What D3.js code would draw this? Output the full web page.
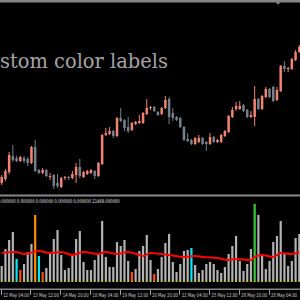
<!DOCTYPE html>
<html>
<head>
<meta charset="utf-8">
<script src="https://cdn.jsdelivr.net/npm/d3@7"></script>
<style>
  body { margin: 0; background: #000; }
  svg { display: block; }
</style>
</head>
<body>
<svg id="chart" width="300" height="300"></svg>
<script>
// H4 candles, [open, high, low, close]
const candles = [
  [1917,1925,1915,1923],[1921,1931,1919,1929],[1928,1948,1926,1945],[1944,1955,1938,1940],
  [1942,1944,1938,1939],[1939,1944,1938,1943],[1942,1944,1937,1939],[1941,1943,1934,1937],
  [1937,1954,1936,1953],[1953,1960,1928,1929],[1930,1931,1926,1927],[1927,1932,1926,1930],
  [1930,1931,1923,1924],[1923,1927,1920,1924],[1925,1926,1911,1914],[1917,1926,1912,1914],
  [1913,1923,1912,1922],[1922,1924,1920,1923],[1923,1924,1920,1922],[1922,1929,1921,1926],
  [1925,1937,1917,1933],[1933,1941,1922,1924],[1923,1929,1922,1928],[1926,1930,1925,1929],
  [1927,1931,1926,1930],[1929,1930,1921,1924],[1924,1938,1923,1937],[1936,1966,1935,1965],
  [1965,1972,1964,1967],[1966,1973,1965,1969],[1969,1970,1962,1964],[1964,1983,1963,1982],
  [1982,1992,1978,1979],[1980,1981,1969,1972],[1973,1983,1967,1969],[1970,1978,1969,1977],
  [1976,1979,1975,1978],[1977,1985,1976,1979],[1977,1988,1976,1987],[1986,2001,1985,1992],
  [1992,1994,1990,1993],[1993,1994,1988,1989],[1988,1989,1984,1985],[1986,1993,1985,1992],
  [1992,2004,1991,2000],[2001,2003,1976,1983],[1987,1992,1979,1982],[1983,1984,1979,1980],
  [1982,1983,1972,1973],[1973,1974,1959,1960],[1961,1967,1958,1959],[1960,1961,1955,1956],
  [1956,1963,1955,1962],[1958,1965,1957,1962],[1962,1963,1955,1956],[1958,1959,1949,1956],
  [1956,1967,1955,1963],[1963,1964,1957,1958],[1958,1961,1957,1960],[1958,1966,1957,1965],
  [1964,1970,1963,1969],[1968,1985,1967,1984],[1983,1993,1982,1990],[1991,1998,1989,1994],
  [1991,1999,1990,1994],[1995,1996,1988,1989],[1990,1991,1982,1983],[1983,1989,1982,1985],
  [1983,2014,1974,2001],[2001,2002,1990,1991],[1991,2005,1990,2004],[2003,2013,2002,2011],
  [2011,2012,2002,2003],[2013,2014,1998,1999],[2000,2013,1999,2010],[2009,2035,2008,2034],
  [2034,2039,2028,2031],[2031,2033,2028,2032],[2031,2042,2030,2041],[2040,2050,2039,2048],
  [2048,2055,2047,2053]
]

const volumes = [
  15,32,41,49,22,11,17,29,37,66, 25,9,13,29,42,51,26,11,13,26,
  42,50,19,11,11,21,27,60,24,14, 14,39,35,41,20,9,12,30,35,46,
  21,7,12,24,38,47,19,9,17,30, 31,33,16,8,11,17,19,17,11,8,
  14,27,35,45,20,10,17,32,77,66, 25,12,20,39,45,60,27,15,20,43,
  47
]

// bars painted by the custom labels
const volSignals = { 4: "cyan", 5: "red", 9: "orange", 10: "cyan", 11: "red", 35: "red", 41: "red", 51: "cyan", 68: "green" }

// red average line, [bar, value]
const maPoints = [
  [0,28],[4,29],[6,27],[10,30],[13,28],[16,29],[19,26],[22,29],[26,27],[28,29],
  [31,27],[34,29],[37,26],[38,25],[40,28],[43,27],[45,26],[49,24],[52,25],[54,24],
  [58,23],[61,21],[63,22],[67,21],[68,24],[70,26],[73,24],[75,28],[78,27],[80,29]
]

const tickBars = [0, 8, 16, 24, 32, 40, 48, 56, 64, 72]
const tickLabels = ["12 May 04:00", "13 May 12:00", "14 May 20:00", "18 May 04:00", "19 May 12:00",
  "20 May 20:00", "22 May 04:00", "25 May 12:00", "26 May 20:00", "28 May 04:00"]

const bufferText = "0.000000 0.000000 0.000000 0.000000 0.000000 21469.000000"
const title = "Custom color labels"

let svg = d3.select("#chart")

svg.append("rect").attr("width", 300).attr("height", 300).style("fill", "#000")

let x = d3.scaleLinear().domain([0, 80]).range([1.7, 299.3])
let y = d3.scaleLinear().domain([1900, 2100]).range([200, 0])
let vy = d3.scaleLinear().domain([0, 80]).range([281, 201])

let bull = "#f08474"
let bear = "#76808a"
let signalColors = { cyan: "#00e8f8", red: "#ff4a10", orange: "#ff8c00", green: "#3cc83c" }

// window frame
svg.append("rect").attr("x", 0).attr("y", 0).attr("width", 300).attr("height", 2.5).style("fill", "#858585")
svg.append("path").attr("d", "M276,2.5 L280,2.5 L278,4.5 Z").style("fill", "#9fb4c8")
svg.append("rect").attr("x", 0).attr("y", 194.5).attr("width", 300).attr("height", 2).style("fill", "#888")
svg.append("rect").attr("x", 0).attr("y", 288.5).attr("width", 300).attr("height", 1.5).style("fill", "#888")

// title, the start is cut by the window edge
let t = svg.append("text")
  .style("font-family", "DejaVu Serif")
  .style("font-size", "20.5px")
  .style("fill", "#a4a4a4")
  .text(title)
let cu = svg.append("text").style("font-family", "DejaVu Serif").style("font-size", "20.5px").text("Cu")
let cuW = cu.node().getComputedTextLength()
cu.remove()
let fullW = t.node().getComputedTextLength()
let sx = 168 / (fullW - cuW)
t.attr("transform", `translate(${-cuW * sx},68) scale(${sx},1)`)

// candles
let cg = svg.append("g").attr("id", "candles")
cg.selectAll("line")
  .data(candles)
  .join("line")
  .attr("x1", (d, i) => x(i))
  .attr("x2", (d, i) => x(i))
  .attr("y1", d => y(d[1]))
  .attr("y2", d => y(d[2]))
  .style("stroke", d => d[3] >= d[0] ? bull : bear)
  .style("stroke-width", 1)

cg.selectAll("rect")
  .data(candles)
  .join("rect")
  .attr("x", (d, i) => x(i) - 1.25)
  .attr("width", 2.5)
  .attr("y", d => y(Math.max(d[0], d[3])))
  .attr("height", d => Math.max(1, Math.abs(y(d[0]) - y(d[3]))))
  .style("fill", d => d[3] >= d[0] ? bull : bear)

// indicator window
let bt = svg.append("text")
  .style("font-family", "DejaVu Sans")
  .style("font-size", "5px")
  .style("fill", "#e6e6e6")
  .text(bufferText)
let bsx = 122 / bt.node().getComputedTextLength()
bt.attr("transform", `translate(-2,202.5) scale(${bsx},1)`)

svg.append("g").attr("id", "volumes")
  .selectAll("rect")
  .data(volumes)
  .join("rect")
  .attr("x", (d, i) => x(i) - 1.1)
  .attr("width", 2.2)
  .attr("y", d => vy(d))
  .attr("height", d => vy(0) - vy(d))
  .style("fill", (d, i) => volSignals[i] ? signalColors[volSignals[i]] : "#b2b2b2")

// empty buffers show as yellow dots on the zero line
svg.append("g")
  .selectAll("rect")
  .data(volumes)
  .join("rect")
  .attr("x", (d, i) => x(i) - 1)
  .attr("width", 2)
  .attr("y", vy(0))
  .attr("height", 1)
  .style("fill", "#c8c800")

let maLine = d3.line()
  .x(d => x(d[0]))
  .y(d => vy(d[1]))
  .curve(d3.curveMonotoneX)

svg.append("path")
  .attr("d", maLine(maPoints))
  .style("fill", "none")
  .style("stroke", "#ff0000")
  .style("stroke-width", 2)

// time scale
let tg = svg.append("g").attr("id", "time")
tg.selectAll("line")
  .data(tickBars)
  .join("line")
  .attr("x1", d => Math.round(x(d)) - 0.5)
  .attr("x2", d => Math.round(x(d)) - 0.5)
  .attr("y1", 289)
  .attr("y2", 295)
  .style("stroke", "#999")
  .style("stroke-width", 1)

let labels = tg.selectAll("text")
  .data(tickBars)
  .join("text")
  .style("font-family", "DejaVu Sans")
  .style("font-size", "5.5px")
  .style("fill", "#d0d0d0")
  .text((d, i) => tickLabels[i])

labels.each(function (d) {
  let k = 26 / this.getComputedTextLength()
  d3.select(this).attr("transform", `translate(${x(d) + 1.5},296.5) scale(${k},1)`)
})
</script>
</body>
</html>
